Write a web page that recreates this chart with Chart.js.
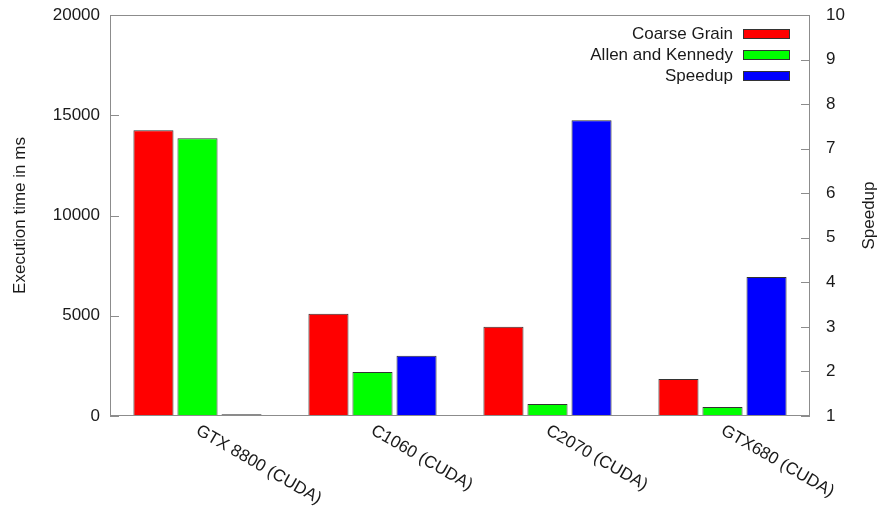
<!DOCTYPE html>
<html lang="en">
<head>
  <meta charset="UTF-8" />
  <title>Execution time and speedup</title>
  <script src="https://cdn.jsdelivr.net/npm/chart.js"></script>
  <style>
    html, body { margin: 0; padding: 0; background: #fff; }
    #wrap { width: 881px; height: 506px; }
  </style>
</head>
<body>
  <div id="wrap"><canvas id="chart"></canvas></div>
  <script>
    const categories = ['GTX 8800 (CUDA)', 'C1060 (CUDA)', 'C2070 (CUDA)', 'GTX680 (CUDA)'];
    const coarseGrain = [14250, 5100, 4450, 1850];
    const allenKennedy = [13850, 2200, 600, 450];
    const speedup = [1.04, 2.35, 7.64, 4.12];
    const leftTicks = [0, 5000, 10000, 15000, 20000];
    const rightTicks = [1, 2, 3, 4, 5, 6, 7, 8, 9, 10];

    const FONT = '"Liberation Sans", Arial, sans-serif';
    const TEXT = '#1a1a1a';
    const FRAME = '#8c8c8c';

    // frame, inward ticks, rotated category labels, legend, right title
    const gnuplotLook = {
      id: 'gnuplotLook',
      afterDatasetsDraw(chart) {
        const ctx = chart.ctx;
        const a = chart.chartArea;
        const x = chart.scales.x, y = chart.scales.y, y1 = chart.scales.y1;
        ctx.save();
        ctx.strokeStyle = FRAME;
        ctx.lineWidth = 1;
        ctx.strokeRect(a.left + 0.5, a.top + 0.5, a.right - a.left - 1, a.bottom - a.top - 1);
        ctx.beginPath();
        leftTicks.forEach(v => {
          const py = Math.round(y.getPixelForValue(v)) + 0.5;
          ctx.moveTo(a.left, py); ctx.lineTo(a.left + 9, py);
        });
        rightTicks.forEach(v => {
          const py = Math.round(y1.getPixelForValue(v)) + 0.5;
          ctx.moveTo(a.right, py); ctx.lineTo(a.right - 9, py);
        });
        ctx.stroke();

        ctx.fillStyle = TEXT;
        ctx.font = '17px ' + FONT;
        ctx.textAlign = 'left';
        ctx.textBaseline = 'top';
        categories.forEach((c, i) => {
          ctx.save();
          ctx.translate(x.getPixelForValue(i) + 4, a.bottom + 6);
          ctx.rotate(30 * Math.PI / 180);
          ctx.fillText(c, 0, 0);
          ctx.restore();
        });

        ctx.save();
        ctx.translate(869, (a.top + a.bottom) / 2);
        ctx.rotate(-Math.PI / 2);
        ctx.textAlign = 'center';
        ctx.textBaseline = 'middle';
        ctx.fillText('Speedup', 0, 0);
        ctx.restore();

        ctx.textAlign = 'right';
        ctx.textBaseline = 'middle';
        chart.data.datasets.forEach((ds, i) => {
          const cy = a.top + 19 + i * 21;
          ctx.fillStyle = TEXT;
          ctx.fillText(ds.label, a.right - 77, cy);
          ctx.fillStyle = ds.backgroundColor;
          ctx.fillRect(a.right - 67, cy - 5, 47, 10);
          ctx.strokeStyle = '#333';
          ctx.strokeRect(a.right - 66.5, cy - 4.5, 46, 9);
        });
        ctx.restore();
      }
    };

    const noPad = s => { s.paddingTop = 0; s.paddingBottom = 0; };

    new Chart(document.getElementById('chart'), {
      type: 'bar',
      data: {
        labels: categories,
        datasets: [
          { label: 'Coarse Grain', data: coarseGrain, yAxisID: 'y', backgroundColor: '#ff0000' },
          { label: 'Allen and Kennedy', data: allenKennedy, yAxisID: 'y', backgroundColor: '#00ff00' },
          { label: 'Speedup', data: speedup, yAxisID: 'y1', backgroundColor: '#0000ff' }
        ]
      },
      options: {
        responsive: true,
        maintainAspectRatio: false,
        animation: false,
        layout: { padding: { top: 15, left: 0, right: 0, bottom: 0 } },
        datasets: {
          bar: {
            categoryPercentage: 0.755,
            barPercentage: 0.91,
            borderColor: '#333',
            borderWidth: 1
          }
        },
        plugins: {
          legend: { display: false },
          tooltip: { enabled: false }
        },
        scales: {
          x: {
            grid: { display: false },
            border: { display: false },
            ticks: { display: false },
            afterFit: s => { s.height = 90; }
          },
          y: {
            position: 'left',
            min: 0,
            max: 20000,
            afterBuildTicks: s => { s.ticks = leftTicks.map(v => ({ value: v })); },
            afterFit: s => { s.width = 110; noPad(s); },
            grid: { display: false },
            border: { display: false },
            ticks: { color: TEXT, font: { family: FONT, size: 17 }, padding: 2, callback: v => String(v) },
            title: {
              display: true,
              text: 'Execution time in ms',
              color: TEXT,
              font: { family: FONT, size: 17 },
              padding: { top: 10, bottom: 0 }
            }
          },
          y1: {
            position: 'right',
            min: 1,
            max: 10,
            afterBuildTicks: s => { s.ticks = rightTicks.map(v => ({ value: v })); },
            afterFit: s => { s.width = 71; noPad(s); },
            grid: { display: false },
            border: { display: false },
            ticks: { color: TEXT, font: { family: FONT, size: 17 }, padding: 8, callback: v => String(v) }
          }
        }
      },
      plugins: [gnuplotLook]
    });
  </script>
</body>
</html>
